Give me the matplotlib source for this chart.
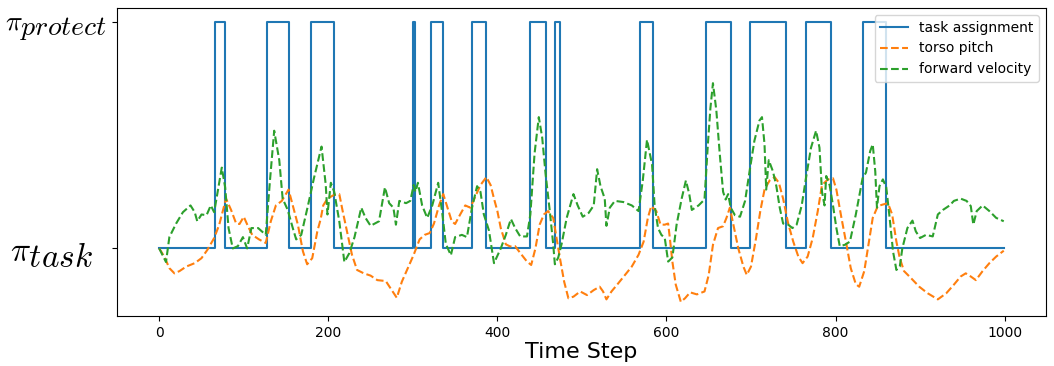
import matplotlib
matplotlib.use('Agg')
import matplotlib.pyplot as plt
import matplotlib._mathtext as mathtext_internal

plt.rcParams['mathtext.fontset'] = 'cm'
# the subscripts in the original labels are drawn at full size
mathtext_internal.SHRINK_FACTOR = 1.0

# task assignment: switch times and the policy that is active from that step on
switch_t = [0, 66, 78, 128, 154, 180, 207, 300, 303, 322, 336, 370, 386, 439, 457,
            468, 474, 569, 584, 647, 676, 699, 741, 765, 795, 832, 860, 999]
switch_val = [0, 1, 0, 1, 0, 1, 0, 1, 0, 1, 0, 1, 0, 1, 0,
              1, 0, 1, 0, 1, 0, 1, 0, 1, 0, 1, 0, 0]

# torso pitch
pitch_t = [0, 6, 12, 18, 24, 32, 42, 50, 57, 65, 71, 79, 85, 91, 95, 100, 105, 110, 118, 126,
           132, 138, 145, 153, 158, 164, 170, 175, 181, 187, 191, 194, 199, 207, 213, 217, 223,
           228, 234, 242, 250, 258, 268, 275, 281, 287, 294, 301, 308, 314, 320, 325, 331, 336,
           341, 346, 350, 356, 362, 368, 374, 380, 387, 392, 396, 400, 404, 410, 415, 421, 427,
           435, 440, 445, 450, 455, 460, 466, 470, 474, 479, 484, 490, 498, 506, 514, 521, 525,
           529, 535, 543, 551, 559, 567, 573, 578, 582, 588, 593, 598, 602, 604, 607, 611, 617,
           622, 628, 636, 645, 650, 655, 661, 667, 671, 675, 680, 685, 691, 695, 700, 706, 711,
           716, 722, 728, 733, 738, 744, 750, 756, 761, 767, 773, 779, 784, 791, 797, 801, 807,
           813, 818, 824, 828, 834, 839, 844, 850, 856, 862, 867, 872, 876, 881, 889, 899, 909,
           921, 931, 940, 948, 954, 960, 966, 974, 982, 990, 999]
pitch = [0.0, -0.036, -0.087, -0.11, -0.10, -0.08, -0.065, -0.043, -0.006, 0.046, 0.105, 0.22,
         0.17, 0.11, 0.108, 0.14, 0.098, 0.06, 0.04, 0.024, 0.12, 0.19, 0.21, 0.26, 0.19, 0.105,
         -0.013, -0.07, -0.043, 0.075, 0.13, 0.19, 0.22, 0.237, 0.24, 0.165, 0.06, -0.028,
         -0.095, -0.11, -0.12, -0.14, -0.144, -0.184, -0.218, -0.147, -0.087, -0.028, 0.04,
         0.06, 0.068, 0.11, 0.19, 0.24, 0.18, 0.12, 0.108, 0.15, 0.19, 0.18, 0.23, 0.28, 0.315,
         0.28, 0.22, 0.165, 0.09, 0.018, 0.009, 0.01, -0.02, -0.058, -0.073, 0.0, 0.105, 0.15,
         0.165, 0.135, 0.046, -0.043, -0.147, -0.22, -0.213, -0.19, -0.206, -0.184, -0.169,
         -0.19, -0.225, -0.19, -0.154, -0.117, -0.08, -0.028, 0.03, 0.135, 0.187, 0.165, 0.105,
         0.105, 0.11, 0.046, -0.058, -0.16, -0.236, -0.22, -0.194, -0.203, -0.19, -0.117, 0.016,
         0.09, 0.098, 0.135, 0.18, 0.09, 0.0, -0.08, -0.117, -0.08, 0.046, 0.165, 0.26, 0.30,
         0.315, 0.29, 0.22, 0.11, 0.03, -0.036, -0.065, -0.036, 0.046, 0.165, 0.28, 0.305, 0.31,
         0.26, 0.135, 0.016, -0.087, -0.158, -0.169, -0.10, 0.016, 0.135, 0.187, 0.194, 0.20,
         0.15, 0.03, -0.043, -0.10, -0.13, -0.169, -0.198, -0.225, -0.198, -0.16, -0.124, -0.11,
         -0.124, -0.14, -0.10, -0.065, -0.036, -0.01]

# forward velocity
vel_t = [0, 8, 12, 20, 28, 37, 42, 45, 50, 56, 61, 65, 74, 78, 82, 87, 93, 99, 104, 109, 117,
         126, 131, 136, 142, 146, 152, 158, 162, 168, 176, 183, 192, 197, 199, 203, 207, 213,
         219, 225, 231, 239, 244, 250, 260, 267, 272, 277, 280, 284, 292, 297, 301, 303, 306,
         311, 317, 323, 330, 335, 339, 345, 350, 358, 364, 370, 376, 380, 384, 390, 396, 404,
         410, 416, 421, 427, 435, 439, 444, 449, 453, 457, 462, 466, 468, 472, 476, 482, 490,
         495, 501, 508, 514, 518, 522, 527, 529, 533, 539, 549, 559, 567, 572, 577, 583, 586,
         590, 594, 598, 602, 607, 612, 618, 623, 627, 630, 638, 645, 649, 652, 655, 659, 663,
         667, 670, 673, 676, 681, 687, 693, 699, 704, 710, 713, 716, 718, 721, 726, 730, 734,
         738, 744, 749, 754, 760, 765, 771, 777, 781, 784, 787, 789, 793, 797, 801, 805, 811,
         817, 824, 832, 836, 841, 844, 847, 849, 852, 856, 860, 864, 868, 872, 876, 879, 885,
         891, 895, 900, 907, 915, 921, 927, 935, 940, 948, 955, 960, 963, 967, 974, 982, 990,
         999]
vel = [0.0, -0.06, 0.05, 0.11, 0.16, 0.19, 0.16, 0.12, 0.15, 0.147, 0.19, 0.16, 0.357, 0.27,
       0.09, 0.0, 0.01, 0.05, 0.0, 0.09, 0.09, 0.06, 0.30, 0.52, 0.39, 0.22, 0.17, 0.09, 0.04,
       0.06, 0.19, 0.31, 0.45, 0.28, 0.15, 0.29, 0.25, 0.12, -0.06, -0.02, 0.05, 0.18, 0.135,
       0.10, 0.12, 0.27, 0.20, 0.18, 0.105, 0.21, 0.20, 0.21, 0.28, 0.25, 0.29, 0.19, 0.135,
       0.19, 0.29, 0.15, 0.02, -0.03, 0.05, 0.06, 0.05, 0.18, 0.275, 0.25, 0.15, 0.08, -0.065,
       0.0, 0.06, 0.13, 0.09, 0.053, 0.053, 0.15, 0.42, 0.58, 0.49, 0.33, 0.165, 0.02, -0.07,
       -0.04, 0.02, 0.135, 0.24, 0.19, 0.14, 0.157, 0.19, 0.35, 0.275, 0.22, 0.10, 0.18, 0.21,
       0.205, 0.19, 0.165, 0.30, 0.48, 0.37, 0.19, 0.09, 0.06, 0.046, -0.058, -0.04, 0.105,
       0.22, 0.30, 0.24, 0.17, 0.19, 0.216, 0.46, 0.62, 0.73, 0.61, 0.42, 0.25, 0.216, 0.24,
       0.18, 0.147, 0.14, 0.21, 0.357, 0.475, 0.565, 0.58, 0.46, 0.26, 0.39, 0.34, 0.275, 0.18,
       0.11, 0.105, 0.09, 0.105, 0.19, 0.31, 0.445, 0.52, 0.445, 0.25, 0.19, 0.32, 0.28, 0.19,
       0.09, 0.01, 0.016, 0.03, 0.15, 0.31, 0.335, 0.43, 0.46, 0.34, 0.18, 0.275, 0.305, 0.27,
       0.135, -0.013, -0.095, -0.08, 0.0, 0.09, 0.123, 0.075, 0.046, 0.06, 0.053, 0.15, 0.17,
       0.19, 0.21, 0.22, 0.21, 0.187, 0.105, 0.165, 0.19, 0.165, 0.135, 0.12]

fig = plt.figure(figsize=(10.54, 3.66), dpi=100)
ax = fig.add_axes([0.111, 0.137, 0.8814, 0.841])

ax.plot(switch_t, switch_val, drawstyle='steps-post', color='tab:blue', label='task assignment')
ax.plot(pitch_t, pitch, '--', color='tab:orange', label='torso pitch')
ax.plot(vel_t, vel, '--', color='tab:green', label='forward velocity')

ax.set_yticks([0, 1])
ax.set_yticklabels([r'$\pi_{task}$', r'$\pi_{protect}$'])
yticks = ax.yaxis.get_major_ticks()
yticks[0].label1.set_fontsize(24)
yticks[0].label1.set_x(-0.015)  # this label sits a bit further from the axis
yticks[1].label1.set_fontsize(20)
ax.set_xlabel('Time Step', fontsize=16, labelpad=2)
ax.legend(loc='upper right', fontsize=10)

fig.savefig('out.png', dpi=100)
